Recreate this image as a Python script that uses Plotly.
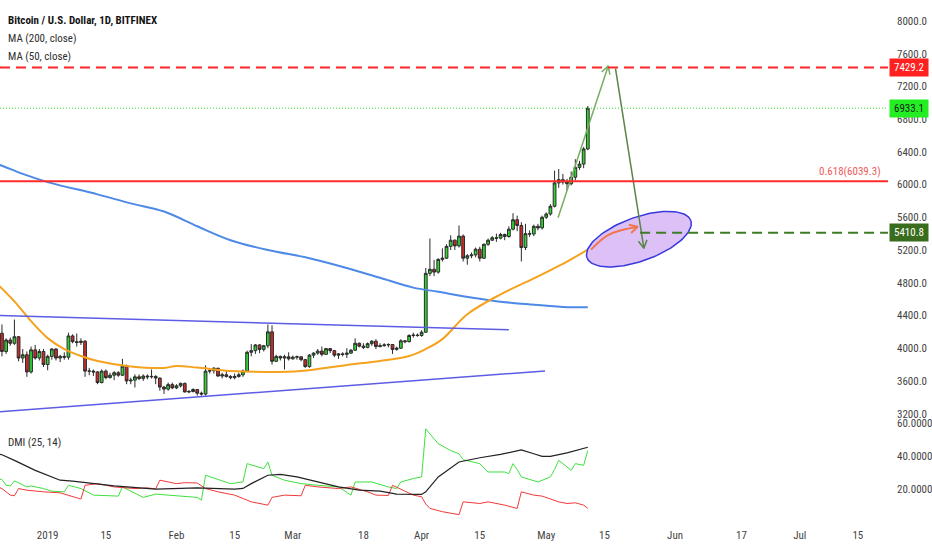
import numpy as np
import pandas as pd
import plotly.graph_objects as go

# daily candles, BTC/USD Bitfinex, 20 Dec 2018 .. 11 May 2019
dates = pd.date_range("2018-12-20", "2019-05-11", freq="D")

opens = [
    3800, 4183, 3960, 4100, 4060, 4140, 3880, 3920, 3710, 3980, 3880, 3960,
    3800, 3900, 3990, 3880, 3900, 3890, 4150, 4080, 4070, 4085, 3720, 3720, 3710, 3580, 3720, 3640,
    3670, 3700, 3670, 3780, 3600, 3610, 3650, 3630, 3660, 3650, 3655, 3635, 3525, 3500, 3555,
    3515, 3540, 3570, 3465, 3470, 3495, 3450, 3440, 3720, 3725, 3755, 3660, 3675, 3655,
    3640, 3655, 3675, 3720, 3950, 3970, 4040, 3985, 4030, 4200, 3840, 3900, 3880, 3895,
    3870, 3890, 3895, 3860, 3775, 3915, 3940, 3965, 3925, 3995, 3970, 3915, 3930, 3925, 3940, 3975,
    4060, 4025, 4010, 4055, 4085, 4020, 4030, 4040, 4045, 3985, 4000, 4090, 4080, 4155, 4160,
    4155, 4195, 4915, 4965, 4930, 5085, 5100, 5245, 5320, 5250, 5370, 5100, 5130, 5140, 5210,
    5100, 5270, 5320, 5350, 5345, 5390, 5365, 5455, 5570, 5500, 5230, 5400, 5395, 5490, 5470,
    5600, 5640, 5735, 6020, 6060, 6030, 6010, 6090, 6210, 6250, 6435,
]
highs = [
    4240, 4290, 4120, 4130, 4350, 4150, 3990, 3960, 4020, 4040, 3990, 3990,
    3920, 4000, 4000, 3920, 3950, 4190, 4170, 4180, 4120, 4100, 3760, 3740, 3720, 3740, 3740, 3700,
    3720, 3720, 3870, 3800, 3640, 3680, 3680, 3680, 3680, 3740, 3670, 3640, 3540, 3580, 3580,
    3560, 3580, 3580, 3490, 3510, 3500, 3470, 3790, 3740, 3770, 3760, 3700, 3720, 3670,
    3690, 3700, 3740, 3970, 4050, 4050, 4050, 4040, 4290, 4280, 3920, 3910, 3920, 3950,
    3910, 3910, 3900, 3870, 3930, 3950, 3990, 4020, 4000, 4000, 3980, 3940, 3950, 4000, 3990, 4120,
    4070, 4060, 4070, 4100, 4110, 4060, 4060, 4060, 4050, 4020, 4110, 4100, 4170, 4190, 4180,
    4220, 4980, 5340, 5080, 5100, 5220, 5270, 5380, 5330, 5500, 5390, 5150, 5170, 5230, 5240,
    5280, 5340, 5370, 5400, 5410, 5400, 5490, 5650, 5620, 5540, 5520, 5440, 5510, 5520, 5620,
    5660, 5760, 6170, 6190, 6130, 6070, 6160, 6310, 6290, 6460, 6960,
]
lows = [
    3780, 3900, 3930, 4030, 4040, 3840, 3820, 3650, 3690, 3860, 3850, 3770,
    3730, 3860, 3850, 3830, 3860, 3860, 4060, 4020, 4040, 3650, 3670, 3660, 3560, 3570, 3620, 3630,
    3610, 3650, 3660, 3560, 3560, 3520, 3610, 3600, 3620, 3630, 3560, 3480, 3440, 3480, 3500,
    3500, 3520, 3460, 3450, 3460, 3420, 3420, 3420, 3690, 3690, 3650, 3630, 3640, 3620,
    3620, 3640, 3650, 3710, 3900, 3930, 3940, 3960, 4000, 3800, 3830, 3850, 3740, 3850,
    3860, 3860, 3840, 3760, 3760, 3880, 3920, 3900, 3920, 3940, 3890, 3870, 3900, 3880, 3930, 3970,
    4010, 3990, 4000, 4030, 3990, 4010, 4020, 4010, 3930, 3970, 3990, 4060, 4070, 4130, 4140,
    4140, 4190, 4880, 4880, 4910, 5060, 5090, 5200, 5200, 5230, 5060, 5020, 5100, 5110, 5060,
    5090, 5250, 5310, 5300, 5330, 5320, 5350, 5440, 5430, 5060, 5200, 5360, 5370, 5440, 5450,
    5580, 5620, 5720, 5960, 6000, 5930, 5990, 6050, 6180, 6200, 6420,
]
closes = [
    4183, 3960, 4100, 4060, 4140, 3880, 3920, 3710, 3980, 3880, 3960, 3800,
    3900, 3990, 3880, 3900, 3890, 4150, 4080, 4070, 4085, 3720, 3720, 3710, 3580, 3720, 3640, 3670,
    3700, 3670, 3780, 3600, 3610, 3650, 3630, 3660, 3650, 3655, 3635, 3525, 3500, 3555, 3515,
    3540, 3570, 3465, 3470, 3495, 3450, 3440, 3720, 3725, 3755, 3660, 3675, 3655, 3640,
    3655, 3675, 3720, 3950, 3970, 4040, 3985, 4030, 4200, 3840, 3900, 3880, 3895, 3870,
    3890, 3895, 3860, 3775, 3915, 3940, 3965, 3925, 3995, 3970, 3915, 3930, 3925, 3940, 3975, 4060,
    4025, 4010, 4055, 4085, 4020, 4030, 4040, 4045, 3985, 4000, 4090, 4080, 4155, 4160, 4155,
    4195, 4915, 4965, 4930, 5085, 5100, 5245, 5320, 5250, 5370, 5100, 5130, 5140, 5210, 5100,
    5270, 5320, 5350, 5345, 5390, 5365, 5455, 5570, 5500, 5230, 5400, 5395, 5490, 5470, 5600,
    5640, 5735, 6020, 6060, 6030, 6010, 6090, 6210, 6250, 6435, 6933,
]

# moving averages
ma200_dates = ["2018-12-20", "2018-12-21", "2018-12-26", "2019-01-01", "2019-01-13", "2019-01-21",
               "2019-01-29", "2019-02-06", "2019-02-14", "2019-02-23", "2019-03-05", "2019-03-14",
               "2019-03-22", "2019-03-30", "2019-04-05", "2019-04-11", "2019-04-19", "2019-04-27",
               "2019-05-05", "2019-05-11"]
ma200 = [6245, 6230, 6130, 6030, 5880, 5770, 5670, 5490, 5320, 5200, 5100, 4980,
         4860, 4740, 4690, 4635, 4575, 4535, 4505, 4500]

ma50_dates = ["2018-12-20", "2018-12-24", "2018-12-28", "2019-01-01", "2019-01-05", "2019-01-09",
              "2019-01-13", "2019-01-21", "2019-01-29", "2019-02-01", "2019-02-06", "2019-02-14",
              "2019-02-23", "2019-03-03", "2019-03-14", "2019-03-22", "2019-03-29", "2019-04-02",
              "2019-04-06", "2019-04-12", "2019-04-20", "2019-04-28", "2019-05-06", "2019-05-11"]
ma50 = [4780, 4573, 4330, 4123, 3990, 3905, 3844, 3777, 3759, 3783, 3763, 3722,
        3710, 3722, 3795, 3844, 3905, 3990, 4111, 4415, 4658, 4853, 5059, 5205]

# DMI (25, 14)
plus_di_dates = ["2018-12-20", "2018-12-21", "2018-12-22", "2018-12-23", "2018-12-24", "2018-12-27",
                 "2018-12-28", "2018-12-31", "2019-01-02", "2019-01-05", "2019-01-06", "2019-01-09",
                 "2019-01-12", "2019-01-18", "2019-01-19", "2019-01-24", "2019-01-27", "2019-02-01",
                 "2019-02-06", "2019-02-07", "2019-02-08", "2019-02-14", "2019-02-17", "2019-02-18",
                 "2019-02-21", "2019-02-22", "2019-02-23", "2019-02-24", "2019-02-27", "2019-03-03",
                 "2019-03-07", "2019-03-12", "2019-03-15", "2019-03-16", "2019-03-20", "2019-03-24",
                 "2019-03-26", "2019-03-27", "2019-03-30", "2019-04-01", "2019-04-02", "2019-04-05",
                 "2019-04-08", "2019-04-10", "2019-04-11", "2019-04-15", "2019-04-17", "2019-04-21",
                 "2019-04-22", "2019-04-23", "2019-04-24", "2019-04-25", "2019-04-29", "2019-04-30",
                 "2019-05-02", "2019-05-03", "2019-05-04", "2019-05-07", "2019-05-08", "2019-05-10",
                 "2019-05-11"]
plus_di = [26.5, 25.9, 22.4, 22.0, 25.1, 21.4, 22.0, 20.4, 18.8, 18.4, 22.4, 20.4,
           16.4, 15.8, 21.4, 15.0, 17.0, 15.8, 15.0, 13.3, 28.5, 23.4, 24.4, 35.6,
           33.5, 32.5, 36.6, 28.5, 25.5, 23.4, 22.4, 21.4, 16.4, 24.4, 24.4, 21.4,
           20.4, 24.4, 26.5, 27.5, 56.8, 47.7, 43.6, 41.6, 38.0, 35.6, 30.5, 30.5,
           29.5, 35.6, 32.0, 27.5, 24.4, 25.5, 27.5, 32.0, 37.6, 31.5, 35.6, 34.6,
           43.6]

minus_di_dates = ["2018-12-20", "2018-12-21", "2018-12-23", "2018-12-24", "2018-12-25", "2018-12-27",
                  "2018-12-31", "2019-01-04", "2019-01-09", "2019-01-10", "2019-01-13", "2019-01-17",
                  "2019-01-22", "2019-01-25", "2019-01-27", "2019-01-28", "2019-02-01", "2019-02-03",
                  "2019-02-06", "2019-02-08", "2019-02-11", "2019-02-15", "2019-02-19", "2019-02-23",
                  "2019-02-24", "2019-02-27", "2019-03-03", "2019-03-04", "2019-03-07", "2019-03-12",
                  "2019-03-15", "2019-03-19", "2019-03-21", "2019-03-24", "2019-03-25", "2019-03-30",
                  "2019-04-01", "2019-04-02", "2019-04-03", "2019-04-06", "2019-04-10", "2019-04-11",
                  "2019-04-15", "2019-04-17", "2019-04-21", "2019-04-24", "2019-04-25", "2019-04-28",
                  "2019-04-30", "2019-05-04", "2019-05-06", "2019-05-08", "2019-05-10", "2019-05-11"]
minus_di = [21.4, 20.4, 16.4, 16.0, 20.4, 19.4, 18.4, 17.8, 14.0, 22.4, 23.4, 21.4,
            20.4, 20.8, 20.2, 25.5, 23.4, 24.0, 23.8, 20.4, 18.4, 16.4, 12.3, 10.3,
            15.0, 16.4, 16.0, 22.4, 21.4, 20.4, 21.4, 18.4, 16.4, 16.2, 22.4, 16.4,
            15.4, 11.0, 8.3, 6.3, 4.5, 12.3, 11.3, 12.3, 10.3, 8.3, 18.4, 16.4,
            15.8, 12.3, 11.3, 11.7, 10.3, 8.3]

adx_dates = ["2018-12-20", "2018-12-21", "2018-12-24", "2018-12-29", "2019-01-04", "2019-01-07",
             "2019-01-17", "2019-01-27", "2019-02-06", "2019-02-15", "2019-02-17", "2019-02-19",
             "2019-02-23", "2019-02-26", "2019-03-02", "2019-03-07", "2019-03-12", "2019-03-17",
             "2019-03-22", "2019-03-26", "2019-04-01", "2019-04-02", "2019-04-05", "2019-04-10",
             "2019-04-15", "2019-04-20", "2019-04-25", "2019-04-28", "2019-04-30", "2019-05-02",
             "2019-05-06", "2019-05-11"]
adx = [41.6, 41.0, 37.6, 31.5, 25.5, 24.9, 22.0, 20.0, 20.8, 20.0, 20.5, 23.4,
       28.5, 29.1, 27.5, 24.5, 21.4, 19.4, 18.8, 17.0, 16.8, 18.4, 27.5, 36.6,
       39.2, 41.2, 44.0, 41.6, 40.0, 40.0, 42.2, 45.6]

# price levels drawn on the chart
target_level = 7429.2
last_price = 6933.1
fib_level = 6039.3
support_level = 5410.8
support_start = "2019-05-23 14:00"

# hand drawn trend lines
upper_trend_dates = ["2018-12-20 12:00", "2019-04-22 00:00"]
upper_trend_prices = [4400, 4224]
lower_trend_dates = ["2018-12-20 12:00", "2019-04-30 17:00"]
lower_trend_prices = [3224, 3722]

up_arrow = [("2019-05-03 20:00", 5594), ("2019-05-15 22:00", 7450)]
down_arrow = [("2019-05-17 16:00", 7417), ("2019-05-24 12:00", 5221)]
curve_arrow = [("2019-05-11 19:00", 5205), ("2019-05-16 02:00", 5387), ("2019-05-23 00:00", 5484)]
ellipse_center = ("2019-05-23 07:00", 5333)

price_ticks = list(range(3200, 8001, 400))
dmi_ticks = [20, 40, 60]
x_tick_dates = ["2019-01-01", "2019-01-15", "2019-02-01", "2019-02-15", "2019-03-01", "2019-03-18",
                "2019-04-01", "2019-04-15", "2019-05-01", "2019-05-15", "2019-06-01", "2019-06-17",
                "2019-07-01", "2019-07-15"]
x_tick_text = ["2019", "15", "Feb", "15", "Mar", "18", "Apr", "15", "May", "15", "Jun", "17", "Jul", "15"]

# screen scale of the price pane, used only for the drawings
PX_PER_DAY = 4.14
PRICE_PER_PX = 12.152

FONT = "Liberation Sans Narrow, Arial Narrow, Roboto Condensed, Liberation Sans, Arial, sans-serif"
ONE_DAY = pd.Timedelta(days=1)


def vee(head, tail, size=9, spread=0.5):
    """Open arrow head (two barbs) at head, pointing away from tail."""
    hx, hp = pd.Timestamp(head[0]), head[1]
    tx, tp = pd.Timestamp(tail[0]), tail[1]
    vx = (tx - hx) / ONE_DAY * PX_PER_DAY
    vy = (tp - hp) / PRICE_PER_PX
    n = np.hypot(vx, vy)
    ux, uy = vx / n, vy / n
    xs, ys = [], []
    for a in (spread, -spread):
        bx = ux * np.cos(a) - uy * np.sin(a)
        by = ux * np.sin(a) + uy * np.cos(a)
        xs.append(hx + ONE_DAY * (bx * size / PX_PER_DAY))
        ys.append(hp + by * size * PRICE_PER_PX)
    return [xs[0], hx, xs[1]], [ys[0], hp, ys[1]]


def arrow_trace(tail, head, color, width=1.5):
    bx, by = vee(head, tail)
    x = [pd.Timestamp(tail[0]), pd.Timestamp(head[0]), None] + bx
    y = [tail[1], head[1], None] + by
    return go.Scatter(x=x, y=y, mode="lines", line=dict(color=color, width=width),
                      showlegend=False, hoverinfo="skip")


fig = go.Figure()

fig.add_trace(go.Candlestick(
    x=dates, open=opens, high=highs, low=lows, close=closes,
    increasing=dict(line=dict(color="#2b2b2b", width=1), fillcolor="#2fd52f"),
    decreasing=dict(line=dict(color="#2b2b2b", width=1), fillcolor="#cc2a2a"),
    whiskerwidth=0, showlegend=False, hoverinfo="skip",
))

fig.add_trace(go.Scatter(x=ma200_dates, y=ma200, mode="lines", line=dict(color="#4d89e6", width=2, shape="spline"),
                         showlegend=False, hoverinfo="skip"))
fig.add_trace(go.Scatter(x=ma50_dates, y=ma50, mode="lines", line=dict(color="#f5a21e", width=2, shape="spline"),
                         showlegend=False, hoverinfo="skip"))

for tx, ty in ((upper_trend_dates, upper_trend_prices), (lower_trend_dates, lower_trend_prices)):
    fig.add_trace(go.Scatter(x=tx, y=ty, mode="lines", line=dict(color="#5c5ce6", width=1.5),
                             showlegend=False, hoverinfo="skip"))

# ellipse around the expected pull-back zone
t = np.linspace(0, 2 * np.pi, 120)
a_px, b_px, tilt = 55, 22, np.radians(20)
ex = a_px * np.cos(t) * np.cos(tilt) - b_px * np.sin(t) * np.sin(tilt)
ey = a_px * np.cos(t) * np.sin(tilt) + b_px * np.sin(t) * np.cos(tilt)
ec = pd.Timestamp(ellipse_center[0])
fig.add_trace(go.Scatter(
    x=[ec + ONE_DAY * (v / PX_PER_DAY) for v in ex],
    y=ellipse_center[1] + ey * PRICE_PER_PX,
    mode="lines", fill="toself", fillcolor="rgba(198,150,240,0.6)",
    line=dict(color="#3838dc", width=1.5), showlegend=False, hoverinfo="skip",
))

# curved orange arrow inside the ellipse
fig.add_trace(go.Scatter(x=[c[0] for c in curve_arrow], y=[c[1] for c in curve_arrow], mode="lines",
                         line=dict(color="#f0764c", width=2, shape="spline"), showlegend=False, hoverinfo="skip"))
hx, hy = vee(curve_arrow[-1], curve_arrow[-2], size=9)
fig.add_trace(go.Scatter(x=hx, y=hy, mode="lines", line=dict(color="#f0764c", width=2),
                         showlegend=False, hoverinfo="skip"))

fig.add_trace(arrow_trace(up_arrow[0], up_arrow[1], "#7aab62"))
fig.add_trace(arrow_trace(down_arrow[0], down_arrow[1], "#5a8449"))

# DMI pane
fig.add_trace(go.Scatter(x=plus_di_dates, y=plus_di, yaxis="y2", mode="lines",
                         line=dict(color="#3ee03e", width=1), showlegend=False, hoverinfo="skip"))
fig.add_trace(go.Scatter(x=minus_di_dates, y=minus_di, yaxis="y2", mode="lines",
                         line=dict(color="#ee3a3a", width=1), showlegend=False, hoverinfo="skip"))
fig.add_trace(go.Scatter(x=adx_dates, y=adx, yaxis="y2", mode="lines",
                         line=dict(color="#222222", width=1.2), showlegend=False, hoverinfo="skip"))

x_start, x_end = "2018-12-20 12:40", "2019-07-22 06:00"

shapes = [
    dict(type="line", xref="paper", yref="y", x0=0, x1=1, y0=target_level, y1=target_level,
         line=dict(color="#ff2424", width=2, dash="10px,6px")),
    dict(type="line", xref="paper", yref="y", x0=0, x1=1, y0=last_price, y1=last_price,
         line=dict(color="#22dd22", width=1, dash="1px,2px")),
    dict(type="line", xref="paper", yref="y", x0=0, x1=1, y0=fib_level, y1=fib_level,
         line=dict(color="#ff2a2a", width=2)),
    dict(type="line", xref="x", yref="y", x0=support_start, x1=x_end, y0=support_level, y1=support_level,
         line=dict(color="#3f7a26", width=2, dash="10px,6px")),
]

W, H = 932, 550
PLOT_W, PLOT_H = 889, 527
split = (PLOT_H - 420) / PLOT_H


def px(x):
    return x / PLOT_W


def py(y):
    return 1 - y / PLOT_H


annotations = [
    dict(text="<b>Bitcoin / U.S. Dollar, 1D, BITFINEX</b>", x=px(6), y=py(18), font=dict(size=11, color="#131313")),
    dict(text="MA (200, close)", x=px(6), y=py(36), font=dict(size=11, color="#2e2e2e")),
    dict(text="MA (50, close)", x=px(6), y=py(54), font=dict(size=11, color="#2e2e2e")),
    dict(text="DMI (25, 14)", x=px(6), y=py(442), font=dict(size=11, color="#2e2e2e")),
]
for a in annotations:
    a.update(xref="paper", yref="paper", xanchor="left", yanchor="middle", showarrow=False)

annotations.append(dict(text=f"0.618({fib_level:.1f})", xref="paper", yref="y", x=px(884), y=fib_level,
                        xanchor="right", yanchor="bottom", yshift=1, showarrow=False,
                        font=dict(size=11, color="#f05a5a")))

for level, bg, fg in ((target_level, "#ff2020", "white"), (last_price, "#22ee22", "#1a1a1a"),
                      (support_level, "#3a6c1e", "white")):
    annotations.append(dict(text=f"{level:.1f}", xref="paper", yref="y", x=1, y=level, xanchor="left",
                            yanchor="middle", xshift=1, showarrow=False, bgcolor=bg, borderpad=2,
                            width=34, align="center", font=dict(size=11, color=fg)))

fig.update_layout(
    width=W, height=H,
    margin=dict(l=0, r=W - PLOT_W, t=0, b=H - PLOT_H),
    paper_bgcolor="white", plot_bgcolor="white",
    font=dict(family=FONT, size=11, color="#444444"),
    showlegend=False,
    boxgap=0.05,
    xaxis=dict(type="date", range=[x_start, x_end], anchor="y2", tickvals=x_tick_dates, ticktext=x_tick_text,
               showgrid=False, zeroline=False, showline=False, ticks="", rangeslider=dict(visible=False)),
    yaxis=dict(domain=[split, 1], range=[3115, 8219], side="right", tickvals=price_ticks, tickformat=".1f",
               showgrid=False, zeroline=False, ticks="", ticklabelstandoff=8),
    yaxis2=dict(domain=[0, split], range=[-3.03, 61.82], side="right", tickvals=dmi_ticks, tickformat=".4f",
                showgrid=False, zeroline=False, ticks="", ticklabelstandoff=8),
    shapes=shapes,
    annotations=annotations,
)

fig.write_html("out.html", config={"displayModeBar": False},
               post_script="document.body.style.margin = '0';")
